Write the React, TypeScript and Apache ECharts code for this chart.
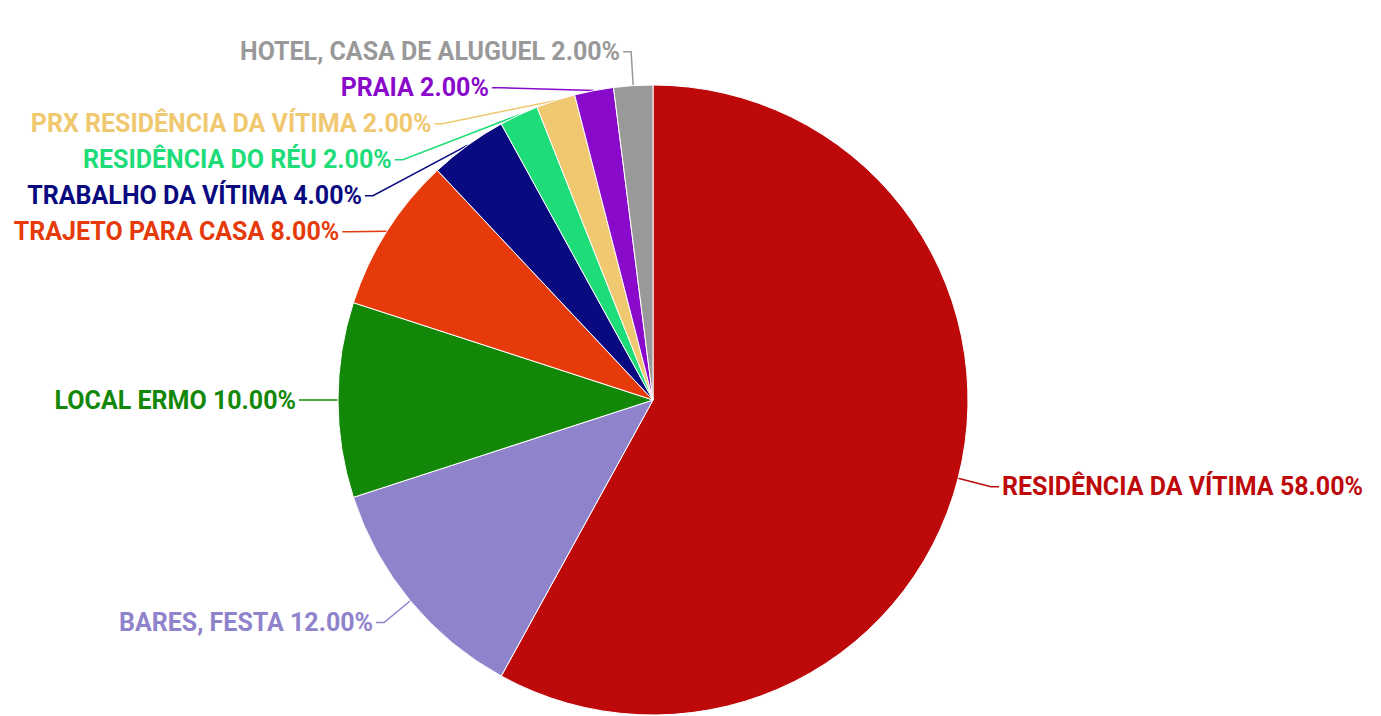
import React, { useEffect, useRef } from "react";
import * as echarts from "echarts";

const categories = [
  "RESIDÊNCIA DA VÍTIMA",
  "BARES, FESTA",
  "LOCAL ERMO",
  "TRAJETO PARA CASA",
  "TRABALHO DA VÍTIMA",
  "RESIDÊNCIA DO RÉU",
  "PRX RESIDÊNCIA DA VÍTIMA",
  "PRAIA",
  "HOTEL, CASA DE ALUGUEL",
];
const values = [58, 12, 10, 8, 4, 2, 2, 2, 2];
const colors = [
  "#BE090B",
  "#8F83CC",
  "#138808",
  "#E63A0A",
  "#0A0A80",
  "#1EDC78",
  "#F0C870",
  "#8A0ACC",
  "#999999",
];

export default function App() {
  const ref = useRef<HTMLDivElement>(null);
  useEffect(() => {
    if (!ref.current) return;
    const chart = echarts.init(ref.current, undefined, { renderer: "svg" });
    chart.setOption({
      animation: false,
      series: [
        {
          type: "pie",
          center: [653, 400],
          radius: 315,
          startAngle: 90,
          clockwise: true,
          avoidLabelOverlap: true,
          itemStyle: { borderColor: "#fff", borderWidth: 1 },
          label: {
            show: true,
            position: "outside",
            fontFamily: "Roboto",
            fontWeight: "bold",
            fontSize: 25,
            lineHeight: 34,
            distanceToLabelLine: 3,
            formatter: (p: any) => `${p.name} ${p.percent.toFixed(2)}%`,
          },
          labelLine: { show: true, length: 34, length2: 8, lineStyle: { width: 1.5 } },
          data: categories.map((c, i) => ({
            name: c,
            value: values[i],
            itemStyle: { color: colors[i] },
            label: { color: colors[i] },
            labelLine: { lineStyle: { color: colors[i] } },
          })),
        },
      ],
    });
    return () => chart.dispose();
  }, []);
  return (
    <div
      ref={ref}
      style={{ position: "absolute", left: 0, top: 0, width: 1381, height: 716 }}
    />
  );
}
